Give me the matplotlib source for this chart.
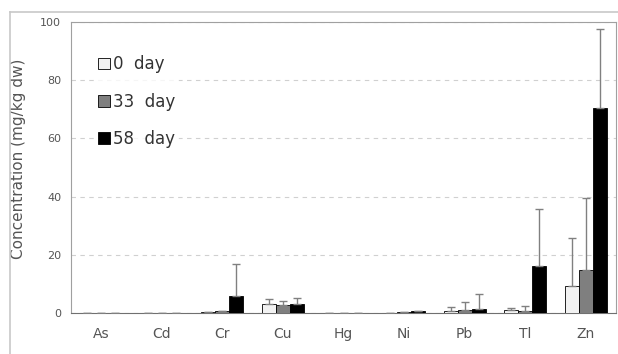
import numpy as np
import matplotlib
matplotlib.use('Agg')
import matplotlib.pyplot as plt
from matplotlib.lines import Line2D

# data
metals = ['As', 'Cd', 'Cr', 'Cu', 'Hg', 'Ni', 'Pb', 'Tl', 'Zn']
day0 = [0.1, 0.1, 0.3, 3.2, 0.1, 0.1, 0.6, 1.0, 9.3]
day33 = [0.1, 0.1, 0.8, 2.6, 0.1, 0.4, 1.0, 0.6, 14.8]
day58 = [0.1, 0.1, 5.8, 3.0, 0.1, 0.8, 1.3, 16.2, 70.3]
err0 = [0.0, 0.0, 0.0, 1.5, 0.0, 0.0, 1.3, 0.6, 16.6]
err33 = [0.0, 0.0, 0.0, 1.4, 0.0, 0.0, 2.8, 1.9, 24.8]
err58 = [0.0, 0.0, 11.0, 2.0, 0.0, 0.0, 5.4, 19.7, 27.3]

font = {'size': 8, 'family': 'DejaVu Sans'}
matplotlib.rc('font', **font)

fig = plt.figure(figsize=(6.18, 3.54), dpi=100)
ax = fig.add_axes([71/618, 41/354, 545/618, 291/354])

x = np.arange(len(metals))
w = 0.232
ekw = dict(ecolor='#808080', elinewidth=1.0, capsize=3, capthick=1.0)
ax.bar(x - w, day0, w, color='#f2f2f2', edgecolor='black', linewidth=0.6,
       yerr=[np.zeros(len(err0)), err0], error_kw=ekw, label='0  day', zorder=3)
ax.bar(x, day33, w, color='#7f7f7f', edgecolor='black', linewidth=0.6,
       yerr=[np.zeros(len(err33)), err33], error_kw=ekw, label='33  day', zorder=3)
ax.bar(x + w, day58, w, color='black', edgecolor='black', linewidth=0.6,
       yerr=[np.zeros(len(err58)), err58], error_kw=ekw, label='58  day', zorder=3)

ax.set_xlim(-0.5, 8.5)
ax.set_ylim(0, 100)
ax.set_yticks([0, 20, 40, 60, 80, 100])
ax.set_xticks(x)
ax.set_xticklabels(metals)
ax.tick_params(length=0, colors='#555555')
ax.tick_params(axis='x', pad=10, labelsize=10)
ax.tick_params(axis='y', pad=7, labelsize=8)
ax.yaxis.grid(True, ls=(0, (4, 4)), color='#d0d0d0', lw=0.8, zorder=0)
for s in ['left', 'top', 'right']:
    ax.spines[s].set_color('#a0a0a0')
ax.spines['bottom'].set_color('#707070')
ax.set_ylabel('Concentration (mg/kg dw)', fontsize=11, color='#555555')
ax.yaxis.set_label_coords(-0.082, 0.53)

leg = ax.legend(loc='upper left', bbox_to_anchor=(0.029, 0.925), frameon=True,
                fontsize=12, handlelength=0.7, handleheight=0.7, handletextpad=0.2,
                labelspacing=1.15, borderpad=0.2)
leg.get_frame().set_edgecolor('none')
leg.get_frame().set_facecolor('white')
for t in leg.get_texts():
    t.set_color('#333333')

# outer frame lines
fig.add_artist(Line2D([10/618, 1], [1 - 12/354, 1 - 12/354], color='#c8c8c8', lw=1.2))
fig.add_artist(Line2D([10/618, 10/618], [0, 1 - 12/354], color='#c8c8c8', lw=1.2))

fig.savefig('out.png', dpi=100)
